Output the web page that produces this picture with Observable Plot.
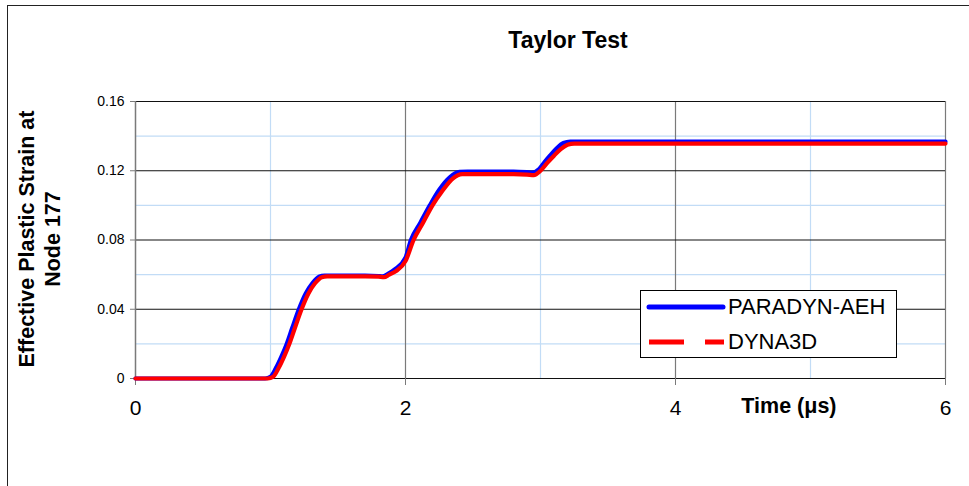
<!DOCTYPE html>
<html>
<head>
<meta charset="utf-8">
<script src="https://cdn.jsdelivr.net/npm/d3@7"></script>
<script src="https://cdn.jsdelivr.net/npm/@observablehq/plot@0.6"></script>
<style>
  html, body { margin: 0; padding: 0; background: #fff; overflow: hidden; }
  #wrap { position: relative; width: 969px; height: 486px; font-family: "Liberation Sans", Arial, sans-serif; }
  #border { position: absolute; left: 7px; top: 5px; width: 1000px; height: 600px; border: 1.5px solid #222; box-sizing: border-box; pointer-events: none; }
  #title { height: 60px; box-sizing: border-box; padding-top: 27px; padding-left: 167px; font-weight: bold; font-size: 23px; line-height: 26px; text-align: center; color: #000; }
  #ylabel { position: absolute; left: -110px; top: 213px; width: 300px; height: 52px; transform: rotate(-90deg); transform-origin: 150px 26px; text-align: center; font-weight: bold; font-size: 21.5px; line-height: 26px; color: #000; white-space: nowrap; }
  #legend { position: absolute; left: 640px; top: 290px; width: 257px; height: 68px; box-sizing: border-box; border: 1px solid #000; background: #fff; }
  #legend svg { position: absolute; left: 0; top: 0; }
  .ltext { position: absolute; left: 87px; font-size: 22px; line-height: 24px; color: #000; white-space: nowrap; }
</style>
</head>
<body>
<div id="wrap">
  <div id="title"></div>
  <div id="chart"></div>
  <div id="ylabel"></div>
  <div id="legend"></div>
  <div id="border"></div>
</div>
<script>
// ---- data ----
const titleText = "Taylor Test";
const yLabelLines = ["Effective Plastic Strain at", "Node 177"];
const xLabelText = "Time (\u03bcs)";
const seriesNames = ["PARADYN-AEH", "DYNA3D"];
const seriesColors = ["#0000ff", "#ff0000"];

const timeParadyn = [0, 0.96, 1.00, 1.04, 1.08, 1.12, 1.16, 1.21, 1.26, 1.31, 1.36, 1.40, 1.5, 1.7, 1.80, 1.83, 1.87, 1.92, 2.00, 2.04, 2.11, 2.18, 2.25, 2.33, 2.40, 2.46, 2.6, 2.8, 2.90, 2.94, 2.99, 3.03, 3.07, 3.12, 3.17, 3.22, 3.35, 4, 5, 6];
const strainParadyn = [0, 0, 0.001, 0.006, 0.0125, 0.020, 0.029, 0.040, 0.049, 0.055, 0.0588, 0.0595, 0.0595, 0.0595, 0.0592, 0.059, 0.0605, 0.063, 0.0698, 0.080, 0.090, 0.100, 0.109, 0.1163, 0.1193, 0.1195, 0.1195, 0.1195, 0.1192, 0.119, 0.121, 0.125, 0.1287, 0.1330, 0.1360, 0.1368, 0.1368, 0.1368, 0.1368, 0.1368];

const timeDyna = [0, 0.98, 1.02, 1.06, 1.10, 1.14, 1.18, 1.23, 1.28, 1.33, 1.38, 1.42, 1.5, 1.7, 1.80, 1.84, 1.88, 1.93, 2.00, 2.06, 2.13, 2.20, 2.27, 2.35, 2.42, 2.48, 2.6, 2.8, 2.90, 2.95, 3.00, 3.05, 3.10, 3.15, 3.20, 3.25, 3.35, 4, 5, 6];
const strainDyna = [0, 0, 0.001, 0.006, 0.0125, 0.020, 0.029, 0.040, 0.049, 0.055, 0.0585, 0.059, 0.059, 0.059, 0.0588, 0.0585, 0.060, 0.062, 0.0678, 0.080, 0.090, 0.100, 0.108, 0.1155, 0.118, 0.118, 0.118, 0.118, 0.1178, 0.1175, 0.120, 0.1245, 0.1287, 0.1325, 0.1350, 0.1357, 0.1357, 0.1357, 0.1357, 0.1357];

const xTicks = [0, 2, 4, 6];
const xMinorGrid = [1, 3, 5];
const yTicks = [0, 0.04, 0.08, 0.12, 0.16];
const yTickLabels = ["0", "0.04", "0.08", "0.12", "0.16"];
const yMinorGrid = [0.02, 0.06, 0.10, 0.14];

// ---- build tables ----
const paradyn = timeParadyn.map((t, i) => ({t, v: strainParadyn[i]}));
const dyna = timeDyna.map((t, i) => ({t, v: strainDyna[i]}));

document.getElementById("title").textContent = titleText;
document.getElementById("ylabel").innerHTML = yLabelLines.map(s => `<div>${s}</div>`).join("");

const minorColor = "#c2dcf6";
const chart = Plot.plot({
  width: 969,
  height: 426,
  marginTop: 41,
  marginBottom: 108,
  marginLeft: 135,
  marginRight: 24,
  style: {fontFamily: "'Liberation Sans', Arial, sans-serif", background: "transparent", color: "#000"},
  x: {domain: [0, 6]},
  y: {domain: [0, 0.16]},
  marks: [
    Plot.ruleY(yMinorGrid, {stroke: minorColor, strokeWidth: 1.2}),
    Plot.ruleX(xMinorGrid, {stroke: minorColor, strokeWidth: 1.2}),
    Plot.ruleX(xTicks.filter(d => d > 0), {stroke: "#7a7a7a", strokeWidth: 1.2}),
    Plot.ruleY(yTicks, {stroke: "#111", strokeWidth: 1.1}),
    Plot.ruleX([0], {stroke: "#7a7a7a", strokeWidth: 1.5}),
    Plot.axisX({ticks: xTicks, tickSize: 7, tickPadding: 15, fontSize: 21, stroke: "#7a7a7a", fill: "#000", label: null, tickFormat: d => String(d)}),
    Plot.axisY({ticks: yTicks, tickSize: 5, tickPadding: 6, fontSize: 14, stroke: "#7a7a7a", fill: "#000", label: null, tickFormat: d => yTickLabels[yTicks.indexOf(d)]}),
    Plot.line(paradyn, {x: "t", y: "v", stroke: seriesColors[0], strokeWidth: 4.2, curve: "monotone-x"}),
    Plot.line(dyna, {x: "t", y: "v", stroke: seriesColors[1], strokeWidth: 4.2, curve: "monotone-x"}),
    Plot.text([xLabelText], {x: () => 4.84, text: d => d, frameAnchor: "bottom", dy: 34, fontSize: 21.5, fontWeight: "bold", fill: "#000"})
  ]
});
document.getElementById("chart").appendChild(chart);

// legend
const leg = document.getElementById("legend");
leg.innerHTML = `
<svg width="257" height="68">
  <line x1="8" x2="82" y1="16" y2="16" stroke="${seriesColors[0]}" stroke-width="5" stroke-linecap="round"></line>
  <line x1="8" x2="83" y1="51" y2="51" stroke="${seriesColors[1]}" stroke-width="5" stroke-dasharray="35,21"></line>
</svg>
<div class="ltext" style="top:4px">${seriesNames[0]}</div>
<div class="ltext" style="top:39px">${seriesNames[1]}</div>`;
</script>
</body>
</html>
